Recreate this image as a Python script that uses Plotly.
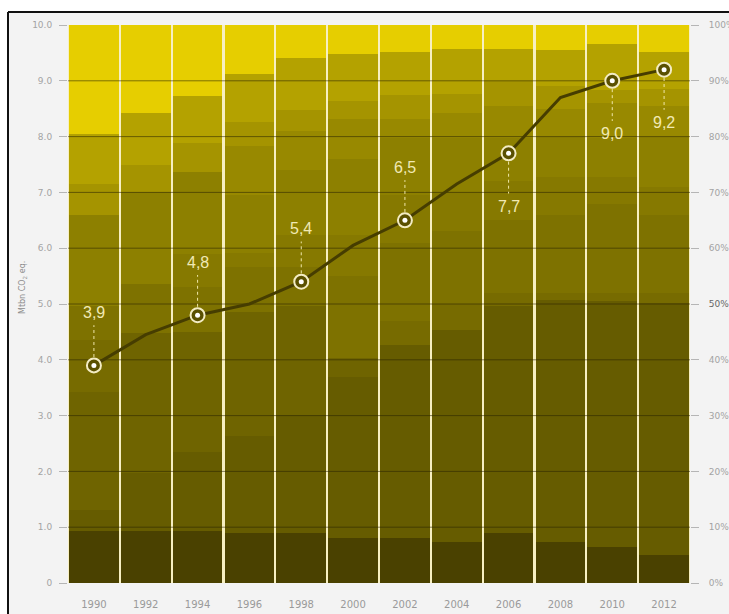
import plotly.graph_objects as go

# ---- data -------------------------------------------------------------
years = [1990, 1992, 1994, 1996, 1998, 2000, 2002, 2004, 2006, 2008, 2010, 2012]

# total emissions, Mt CO2 eq. (left axis)
total_mt = [3.9, 4.45, 4.8, 5.0, 5.4, 6.05, 6.5, 7.15, 7.7, 8.7, 9.0, 9.2]

# years that carry a value label, and where the label sits
label_years = [1990, 1994, 1998, 2002, 2006, 2010, 2012]
label_side = ["above", "above", "above", "above", "below", "below", "below"]

# share of each source layer in % (bottom layer first, right axis)
layer_01 = [9.3, 9.3, 9.3, 8.9, 8.9, 8.0, 8.0, 7.4, 8.9, 7.4, 6.5, 5.0]
layer_02 = [3.8, 10.4, 14.2, 17.4, 21.2, 29.0, 34.7, 37.9, 40.7, 43.4, 44.0, 45.2]
layer_03 = [21.1, 25.1, 21.5, 22.2, 19.5, 3.3, 0, 0, 0, 0, 0, 0]
layer_04 = [9.3, 0, 0, 0, 0, 0, 4.3, 4.7, 2.4, 1.2, 1.5, 1.8]
layer_05 = [6.1, 8.7, 8.0, 8.2, 7.1, 14.7, 14.0, 13.0, 13.0, 14.0, 16.0, 14.0]
layer_06 = [0, 0, 6.0, 2.5, 5.7, 7.4, 8.5, 7.0, 7.0, 6.8, 4.8, 5.0]
layer_07 = [16.4, 16.6, 14.7, 10.3, 11.6, 13.6, 10.2, 9.7, 7.7, 7.2, 7.0, 9.0]
layer_08 = [0, 0, 0, 8.9, 7.0, 7.2, 3.5, 4.5, 5.8, 5.0, 6.2, 5.4]
layer_09 = [5.5, 4.8, 5.1, 4.2, 3.8, 3.2, 4.2, 3.5, 4.5, 4.0, 2.4, 3.2]
layer_10 = [9.0, 9.3, 8.5, 8.6, 9.3, 8.4, 7.7, 8.0, 5.7, 6.5, 8.2, 6.6]
layer_11 = [19.5, 15.8, 12.7, 8.8, 5.9, 5.2, 4.9, 4.3, 4.3, 4.5, 3.4, 4.8]

layers = [layer_01, layer_02, layer_03, layer_04, layer_05, layer_06,
          layer_07, layer_08, layer_09, layer_10, layer_11]

layer_colors = ["#4a4100", "#665c00", "#6f6400", "#776b00", "#7e7200",
                "#867900", "#8d8000", "#988900", "#a59400", "#b4a200",
                "#e6ce00"]

pct_ticks = [0, 10, 20, 30, 40, 50, 60, 70, 80, 90, 100]
mt_ticks = [0, 1, 2, 3, 4, 5, 6, 7, 8, 9, 10]

# ---- figure -----------------------------------------------------------
W, H = 729, 614
ML, MR, MT, MB = 68, 39, 25, 31
plot_w = W - ML - MR
plot_h = H - MT - MB


def paper_x(px):
    return (px - ML) / plot_w


def paper_y(py):
    return (H - MB - py) / plot_h


fig = go.Figure()

for vals, col in zip(layers, layer_colors):
    fig.add_trace(go.Bar(
        x=years, y=vals, yaxis="y",
        marker=dict(color=col, line=dict(width=0)),
        hoverinfo="skip", showlegend=False,
    ))

# dark horizontal grid drawn over the bars
gx, gy = [], []
for p in pct_ticks[1:-1]:
    gx += [1989, 2013, None]
    gy += [p, p, None]
fig.add_trace(go.Scatter(
    x=gx, y=gy, yaxis="y", mode="lines",
    line=dict(color="rgba(40,34,0,0.55)", width=1),
    hoverinfo="skip", showlegend=False,
))

# total emissions line
fig.add_trace(go.Scatter(
    x=years, y=total_mt, yaxis="y2", mode="lines",
    line=dict(color="#463d00", width=3),
    hoverinfo="skip", showlegend=False,
))

# dotted connectors between labelled points and their values
lab_vals = [total_mt[years.index(y)] for y in label_years]
cx, cy = [], []
for yr, v, side in zip(label_years, lab_vals, label_side):
    s = 1 if side == "above" else -1
    cx += [yr, yr, None]
    cy += [v + s * 0.15, v + s * 0.72, None]
fig.add_trace(go.Scatter(
    x=cx, y=cy, yaxis="y2", mode="lines",
    line=dict(color="#efe6a8", width=1, dash="dot"),
    hoverinfo="skip", showlegend=False,
))

# ringed markers
fig.add_trace(go.Scatter(
    x=label_years, y=lab_vals, yaxis="y2", mode="markers",
    marker=dict(size=14, color="#5a5000",
                line=dict(color="#f3ecc4", width=2)),
    hoverinfo="skip", showlegend=False,
))
fig.add_trace(go.Scatter(
    x=label_years, y=lab_vals, yaxis="y2", mode="markers",
    marker=dict(size=5, color="#ffffff"),
    hoverinfo="skip", showlegend=False,
))

annotations = []
for yr, v, side in zip(label_years, lab_vals, label_side):
    s = 1 if side == "above" else -1
    annotations.append(dict(
        x=yr, y=v + s * 0.95, xref="x", yref="y2",
        text=f"{v:.1f}".replace(".", ","), showarrow=False,
        font=dict(family="Liberation Sans, Arial, sans-serif",
                  size=16, color="#f1e9b4"),
    ))

annotations.append(dict(
    x=paper_x(16), y=paper_y(288), xref="paper", yref="paper",
    text="Mtbn CO<sub>2</sub> eq.", showarrow=False, textangle=-90,
    font=dict(family="DejaVu Sans, sans-serif", size=8, color="#8c8c8c"),
))

pct_text = [f"{p}%" for p in pct_ticks]
pct_text[5] = '<span style="color:#666">50%</span>'
mt_text = ["0"] + [f"{t:.1f}" for t in mt_ticks[1:]]

shapes = [
    # white margin outside the frame
    dict(type="rect", xref="paper", yref="paper", layer="below",
         x0=paper_x(-5), x1=paper_x(W + 5), y0=paper_y(12), y1=paper_y(-5),
         fillcolor="#ffffff", line=dict(width=0)),
    dict(type="rect", xref="paper", yref="paper", layer="below",
         x0=paper_x(-5), x1=paper_x(8), y0=paper_y(H + 5), y1=paper_y(-5),
         fillcolor="#ffffff", line=dict(width=0)),
    # black frame edges
    dict(type="line", xref="paper", yref="paper",
         x0=paper_x(8), x1=paper_x(W + 5), y0=paper_y(12), y1=paper_y(12),
         line=dict(color="#111111", width=2)),
    dict(type="line", xref="paper", yref="paper",
         x0=paper_x(8), x1=paper_x(8), y0=paper_y(12), y1=paper_y(H + 5),
         line=dict(color="#111111", width=2)),
]

tick_font = dict(family="DejaVu Sans, sans-serif", size=9, color="#a3a3a3")

fig.update_layout(
    width=W, height=H,
    margin=dict(l=ML, r=MR, t=MT, b=MB, pad=0, autoexpand=False),
    paper_bgcolor="#f3f3f3",
    plot_bgcolor="#f7efc2",
    barmode="stack",
    bargap=0.04,
    showlegend=False,
    xaxis=dict(
        range=[1989, 2013], tickvals=years, ticktext=[str(y) for y in years],
        showgrid=False, zeroline=False, showline=False, ticks="",
        ticklabelstandoff=14, automargin=False,
        tickfont=dict(family="DejaVu Sans, sans-serif", size=10, color="#9a9a9a"),
        fixedrange=True,
    ),
    yaxis=dict(
        side="right", range=[0, 100], tickvals=pct_ticks, ticktext=pct_text,
        showgrid=False, zeroline=False, showline=False,
        ticks="outside", ticklen=8, tickcolor="#b5b5b5", tickwidth=1,
        ticklabelstandoff=8, automargin=False,
        tickfont=tick_font, fixedrange=True,
    ),
    yaxis2=dict(
        overlaying="y", side="left", range=[0, 10], tickvals=mt_ticks,
        ticktext=mt_text, showgrid=False, zeroline=False, showline=False,
        ticks="outside", ticklen=8, tickcolor="#b5b5b5", tickwidth=1,
        ticklabelstandoff=5, automargin=False,
        tickfont=tick_font, fixedrange=True,
    ),
    annotations=annotations,
    shapes=shapes,
)

fig.write_html("out.html")
